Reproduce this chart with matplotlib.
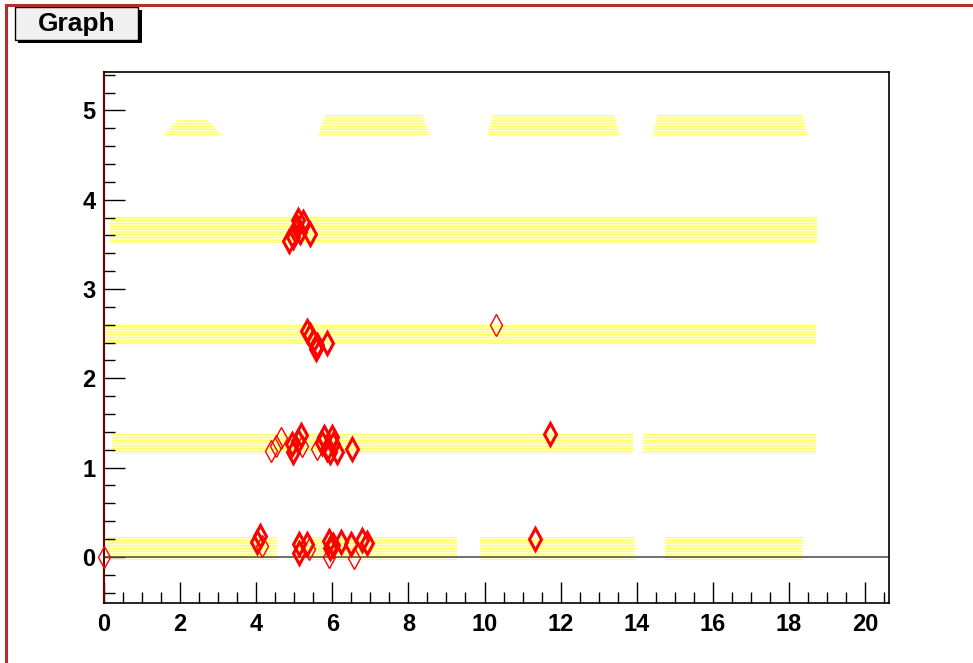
import matplotlib.pyplot as plt
from matplotlib.patches import Rectangle, Polygon
from matplotlib.ticker import MultipleLocator

plt.rcParams['font.family'] = ['Liberation Sans', 'DejaVu Sans']
plt.rcParams['hatch.linewidth'] = 1.0

# yellow point clouds, drawn as bands: x extent, y extent, top taper
band_x0 = [0.08, 5.02, 9.88, 14.74, 0.20, 14.17, 0.05, 0.15, 1.55, 5.62, 10.07, 14.40]
band_x1 = [4.55, 9.28, 13.95, 18.37, 13.90, 18.70, 18.70, 18.75, 3.10, 8.57, 13.56, 18.50]
band_ylo = [-0.03, -0.03, -0.03, -0.03, 1.15, 1.15, 2.37, 3.52, 4.72, 4.72, 4.72, 4.72]
band_yhi = [0.22, 0.22, 0.22, 0.22, 1.39, 1.39, 2.61, 3.82, 4.90, 4.95, 4.95, 4.95]
band_taper = [0, 0, 0, 0, 0, 0, 0, 0, 0.4, 0.2, 0.15, 0.15]

# red diamonds (bold = several overlapping points)
pts_x = [0.00, 4.01, 4.10, 4.14, 5.13, 5.13, 5.33, 5.40, 5.92, 5.94, 5.90, 6.03,
         6.22, 6.48, 6.57, 6.77, 6.92, 11.33,
         4.38, 4.52, 4.64, 4.93, 4.98, 5.11, 5.17, 5.20, 5.59, 5.72, 5.78, 5.85,
         5.94, 5.98, 6.03, 6.13, 6.51, 11.72,
         5.34, 5.41, 5.48, 5.61, 5.57, 5.85, 10.29,
         4.87, 4.98, 5.06, 5.11, 5.15, 5.24, 5.41]
pts_y = [0.00, 0.17, 0.235, 0.12, 0.15, 0.04, 0.15, 0.09, 0.18, 0.10, 0.00, 0.13,
         0.17, 0.14, -0.01, 0.19, 0.16, 0.20,
         1.19, 1.24, 1.33, 1.26, 1.18, 1.30, 1.37, 1.24, 1.21, 1.28, 1.34, 1.21,
         1.17, 1.34, 1.26, 1.17, 1.21, 1.375,
         2.53, 2.48, 2.42, 2.37, 2.33, 2.40, 2.60,
         3.54, 3.58, 3.69, 3.77, 3.64, 3.75, 3.62]
pts_bold = [0, 1, 1, 0, 1, 1, 1, 0, 1, 1, 0, 1,
            1, 1, 0, 1, 1, 1,
            0, 0, 0, 1, 1, 1, 1, 0, 0, 1, 1, 1,
            1, 1, 1, 1, 1, 1,
            1, 1, 1, 1, 1, 1, 0,
            1, 1, 1, 1, 1, 1, 1]

fig = plt.figure(figsize=(9.73, 6.63), dpi=100)
ax = fig.add_axes([104 / 973, 1 - 603 / 663, 785 / 973, 531 / 663])

for x0, x1, y0, y1, t in zip(band_x0, band_x1, band_ylo, band_yhi, band_taper):
    poly = Polygon([(x0, y0), (x1, y0), (x1 - t, y1), (x0 + t, y1)], closed=True,
                   facecolor='#ffffe0', edgecolor='#ffff66', linewidth=0,
                   hatch='------', zorder=1)
    ax.add_patch(poly)

ax.axhline(0, color='#555555', linewidth=1.2, zorder=2)

for x, y, b in zip(pts_x, pts_y, pts_bold):
    ax.plot(x, y, marker='d', markersize=11, markerfacecolor='none',
            markeredgecolor='red', markeredgewidth=2.2 if b else 1.0,
            linestyle='none', clip_on=False, zorder=3)

ax.set_xlim(0, 20.63)
ax.set_ylim(-0.516, 5.43)
ax.xaxis.set_major_locator(MultipleLocator(2))
ax.xaxis.set_minor_locator(MultipleLocator(0.5))
ax.yaxis.set_major_locator(MultipleLocator(1))
ax.yaxis.set_minor_locator(MultipleLocator(0.2))
ax.tick_params(which='both', direction='in', top=False, right=False,
               labelsize=17)
ax.tick_params(axis='x', pad=7)
ax.tick_params(axis='y', pad=6)
ax.tick_params(which='major', length=15, width=1)
ax.tick_params(which='minor', length=8, width=1)
for lab in ax.get_xticklabels() + ax.get_yticklabels():
    lab.set_fontweight('bold')
ax.spines['left'].set_color('#700000')
ax.spines['left'].set_linewidth(1.5)
for s in ['top', 'right', 'bottom']:
    ax.spines[s].set_linewidth(1.2)

# canvas border (top and left)
fig.add_artist(plt.Line2D([6 / 973, 1], [1 - 5 / 663, 1 - 5 / 663],
                          color='#b03030', linewidth=2.2))
fig.add_artist(plt.Line2D([6 / 973, 6 / 973], [0, 1 - 5 / 663],
                          color='#b03030', linewidth=2.2))

# title box with shadow
fig.add_artist(Rectangle((18 / 973, 1 - 43 / 663), 124 / 973, 33 / 663,
                         facecolor='black', edgecolor='none'))
fig.add_artist(Rectangle((15 / 973, 1 - 40 / 663), 123 / 973, 33 / 663,
                         facecolor='#f0f0f0', edgecolor='black', linewidth=1))
fig.text(77 / 973, 1 - 24 / 663, 'Graph', fontsize=19, fontweight='bold',
         ha='center', va='center')

fig.savefig('out.png', dpi=100)
